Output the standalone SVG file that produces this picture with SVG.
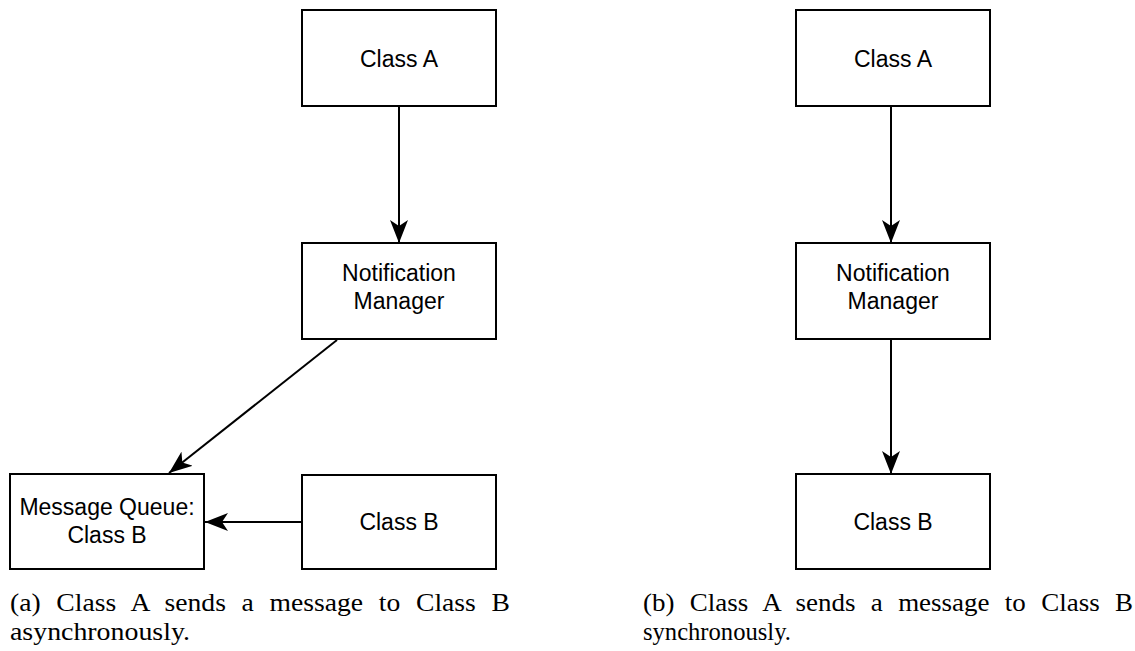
<svg xmlns="http://www.w3.org/2000/svg" width="1135" height="651" viewBox="0 0 1135 651">
  <style>
    .box { fill: #ffffff; stroke: #000000; stroke-width: 2; }
    .lbl { font-family: "Liberation Sans", Arial, sans-serif; font-size: 23px; fill: #000000; text-anchor: middle; }
    .edge { fill: none; stroke: #000000; stroke-width: 2; marker-end: url(#head); }
    .cap { font-family: "Liberation Serif", "Times New Roman", serif; font-size: 25px; fill: #000000; }
    .wide { word-spacing: 8px; }
  </style>
  <defs>
    <!-- concave arrowhead; tip sits on the path end -->
    <marker id="head" viewBox="0 0 24 18" refX="23" refY="9" markerWidth="24" markerHeight="18" markerUnits="userSpaceOnUse" orient="auto">
      <path d="M23,9 L0,0 L6,9 L0,18 Z" fill="#000000"/>
    </marker>
  </defs>

  <rect width="1135" height="651" fill="#ffffff"/>

  <!-- (a) asynchronous -->
  <g id="a-classA"><rect class="box" x="302" y="10" width="194" height="96"/><text class="lbl" x="399" y="67">Class A</text></g>
  <g id="a-notify"><rect class="box" x="302" y="243" width="194" height="96"/><text class="lbl" x="399" y="281">Notification</text><text class="lbl" x="399" y="309">Manager</text></g>
  <g id="a-queue"><rect class="box" x="10" y="474" width="194" height="95"/><text class="lbl" x="107" y="515">Message Queue:</text><text class="lbl" x="107" y="543">Class B</text></g>
  <g id="a-classB"><rect class="box" x="302" y="475" width="194" height="94"/><text class="lbl" x="399" y="530">Class B</text></g>

  <!-- (b) synchronous -->
  <g id="b-classA"><rect class="box" x="796" y="10" width="194" height="96"/><text class="lbl" x="893" y="67">Class A</text></g>
  <g id="b-notify"><rect class="box" x="796" y="243" width="194" height="96"/><text class="lbl" x="893" y="281">Notification</text><text class="lbl" x="893" y="309">Manager</text></g>
  <g id="b-classB"><rect class="box" x="796" y="474" width="194" height="95"/><text class="lbl" x="893" y="530">Class B</text></g>

  <g id="connectors">
    <line class="edge" x1="399" y1="106" x2="399" y2="243"/>
    <line class="edge" x1="337" y1="340" x2="169" y2="473"/>
    <line class="edge" x1="302" y1="522" x2="205" y2="522"/>
    <line class="edge" x1="891" y1="106" x2="891" y2="243"/>
    <line class="edge" x1="891" y1="339" x2="891" y2="474"/>
  </g>

  <g id="captions">
    <text class="cap wide" x="10" y="611" textLength="500" lengthAdjust="spacingAndGlyphs">(a) Class A sends a message to Class B</text>
    <text class="cap" x="10" y="640" textLength="180" lengthAdjust="spacingAndGlyphs">asynchronously.</text>
    <text class="cap wide" x="643" y="611" textLength="490" lengthAdjust="spacingAndGlyphs">(b) Class A sends a message to Class B</text>
    <text class="cap" x="643" y="640" textLength="148" lengthAdjust="spacingAndGlyphs">synchronously.</text>
  </g>
</svg>
